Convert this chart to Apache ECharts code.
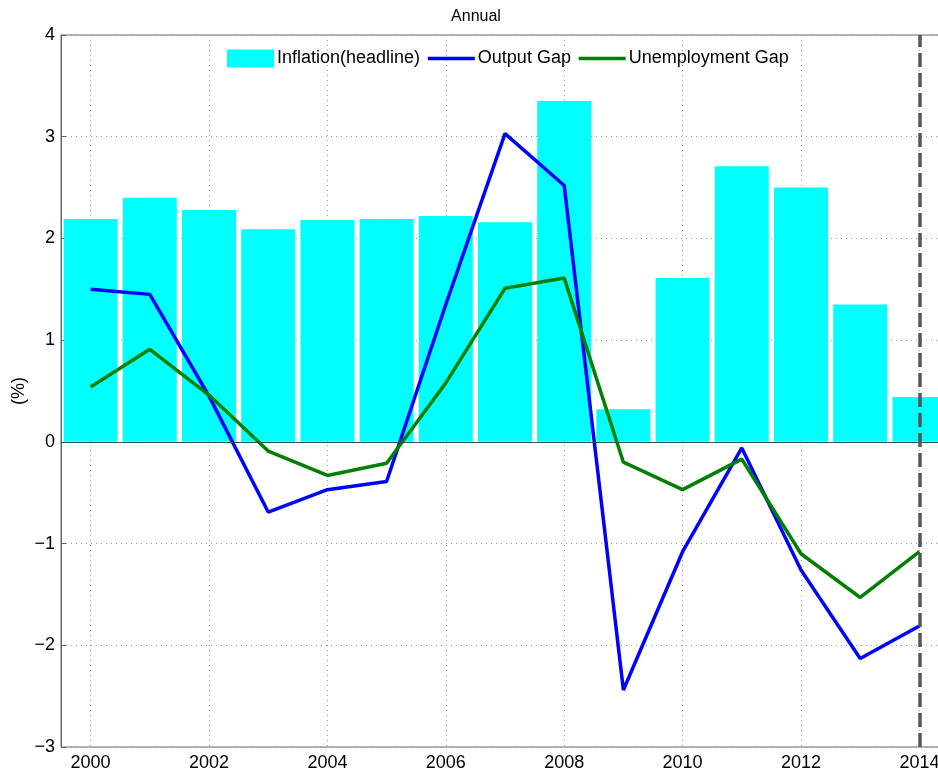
<!DOCTYPE html>
<html>
 <head>
  <title>Annual</title>
  <script src="https://cdn.jsdelivr.net/npm/echarts@6/dist/echarts.min.js"></script>
  <style>
    html, body, #container {
    width: 100%;
    height: 100%;
    margin: 0;
    padding: 0;
    background: #fff;
    }
  </style>
 </head>
  <body>
    <div id="container"></div>
    <script>
      // values
      var years = [2000, 2001, 2002, 2003, 2004, 2005, 2006, 2007, 2008, 2009, 2010, 2011, 2012, 2013, 2014];
      var inflation = [2.19, 2.40, 2.28, 2.09, 2.18, 2.19, 2.22, 2.16, 3.35, 0.32, 1.61, 2.71, 2.50, 1.35, 0.44];
      var outputGap = [1.50, 1.45, 0.45, -0.69, -0.47, -0.39, 1.35, 3.03, 2.52, -2.44, -1.08, -0.06, -1.26, -2.13, -1.81];
      var unempGap = [0.54, 0.91, 0.46, -0.09, -0.33, -0.21, 0.58, 1.51, 1.61, -0.20, -0.47, -0.17, -1.10, -1.53, -1.08];
      var xTicks = [2000, 2002, 2004, 2006, 2008, 2010, 2012, 2014];
      var forecastStart = 2014;

      function pairs(vals) {
        return years.map(function (y, i) { return [y, vals[i]]; });
      }

      var font = 'Liberation Sans, Arial, sans-serif';
      var chart = echarts.init(document.getElementById('container'));

      var option = {
        backgroundColor: '#fff',
        animation: false,
        title: {
          text: 'Annual',
          left: 471,
          top: -2,
          textAlign: 'center',
          textStyle: { fontFamily: font, fontSize: 16, fontWeight: 'normal', color: '#000' }
        },
        legend: {
          left: 222,
          top: 38,
          itemWidth: 47,
          itemHeight: 18,
          itemGap: 6,
          textStyle: { fontFamily: font, fontSize: 18, color: '#000', padding: [0, 0, 0, -2] },
          data: [
            { name: 'Inflation(headline)', icon: 'rect' },
            { name: 'Output Gap', itemStyle: { opacity: 0 }, lineStyle: { width: 3.5 } },
            { name: 'Unemployment Gap', itemStyle: { opacity: 0 }, lineStyle: { width: 3.5 } }
          ]
        },
        grid: {
          left: 61,
          top: 35,
          bottom: 26,
          right: -11,
          outerBoundsMode: 'none',
          containLabel: false,
          show: true,
          borderColor: '#666',
          borderWidth: 1
        },
        xAxis: {
          type: 'value',
          min: 1999.5,
          max: 2014.5,
          axisLine: { lineStyle: { color: '#666' } },
          axisTick: { inside: true, length: 5, customValues: xTicks, lineStyle: { color: '#666' } },
          axisLabel: {
            customValues: xTicks,
            fontFamily: font, fontSize: 18, color: '#000', margin: 1,
            formatter: function (v) { return String(v); }
          },
          splitLine: { show: true, lineStyle: { color: '#999', type: [1, 4], width: 1 } }
        },
        yAxis: {
          type: 'value',
          min: -3,
          max: 4,
          interval: 1,
          name: '(%)',
          nameLocation: 'middle',
          nameGap: 26,
          nameMoveOverlap: false,
          nameTextStyle: { fontFamily: font, fontSize: 18, color: '#000' },
          axisLine: { show: true, lineStyle: { color: '#666' } },
          axisTick: { show: true, inside: true, length: 5, lineStyle: { color: '#666' } },
          axisLabel: {
            fontFamily: font, fontSize: 18, color: '#000', margin: 6,
            formatter: function (v) { return String(v).replace('-', '\u2212'); }
          },
          splitLine: { show: true, lineStyle: { color: '#999', type: [1, 4], width: 1 } }
        },
        series: [
          {
            name: 'Inflation(headline)',
            type: 'bar',
            data: pairs(inflation),
            barWidth: 54,
            itemStyle: { color: '#00ffff' },
            z: 1,
            markLine: {
              silent: true,
              symbol: 'none',
              label: { show: false },
              lineStyle: { color: '#2f4f4f', type: 'solid', width: 1.2 },
              data: [{ yAxis: 0 }]
            }
          },
          {
            name: 'Output Gap',
            type: 'line',
            data: pairs(outputGap),
            symbol: 'none',
            lineStyle: { color: '#0000ff', width: 3.5 },
            itemStyle: { color: '#0000ff' },
            z: 3
          },
          {
            name: 'Unemployment Gap',
            type: 'line',
            data: pairs(unempGap),
            symbol: 'none',
            lineStyle: { color: '#007f00', width: 3.5 },
            itemStyle: { color: '#007f00' },
            z: 3,
            markLine: {
              silent: true,
              symbol: 'none',
              label: { show: false },
              lineStyle: { color: '#555', type: [14, 6], width: 3.5 },
              data: [{ xAxis: forecastStart }]
            }
          }
        ]
      };

      chart.setOption(option);
    </script>
  </body>
</html>
